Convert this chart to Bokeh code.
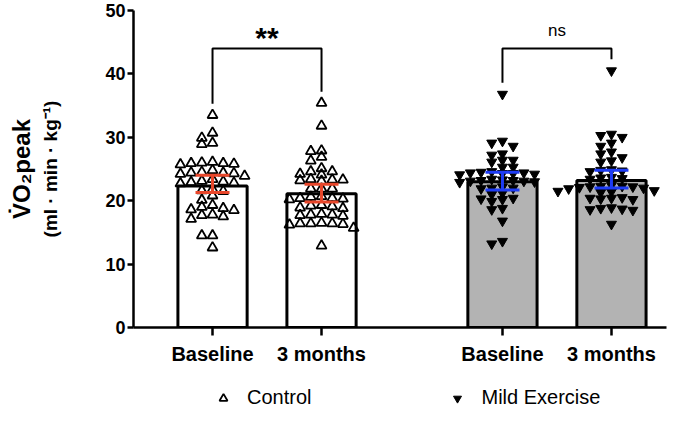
from bokeh.plotting import figure
from bokeh.layouts import column
from bokeh.models import (ColumnDataSource, FixedTicker, Range1d, Legend, LegendItem,
                          Label, Whisker, TeeHead, LinearAxis)
from bokeh.embed import file_html
from bokeh.resources import INLINE

# ---------------- data ----------------
bar_x = [1.0, 2.0, 3.66, 4.66]
tick_labels = ["Baseline", "3 months", "Baseline", "3 months"]
group_names = ["Control", "Mild Exercise"]
bar_means = [22.3, 21.1, 23.0, 23.2]
ci_lower = [21.3, 19.8, 21.7, 22.0]
ci_upper = [24.0, 22.6, 24.5, 24.8]
y_ticks = [0, 10, 20, 30, 40, 50]
sig_labels = ["**", "ns"]
y_title = "V\u0307O\u2082peak"
y_units = "(ml \u00b7 min \u00b7 kg\u207b\u00b9)"

control_baseline = [33.5, 30.7, 29.9, 29.1, 28.9, 26.1, 26.0, 25.9, 25.9, 25.8, 25.7,
                    24.8, 24.5, 24.4, 24.4, 24.3, 24.2, 23.9, 23.4, 23.1, 23.0, 22.9,
                    22.8, 22.7, 21.8, 21.6, 21.5, 20.8, 20.1, 19.3, 19.0, 18.8, 18.6,
                    18.5, 17.8, 17.7, 17.5, 17.1, 14.5, 14.5, 12.6]
control_3months = [35.4, 31.8, 27.9, 27.8, 26.9, 26.3, 25.1, 24.6, 24.6, 24.2, 24.1,
                   23.4, 23.3, 23.3, 23.2, 23.1, 21.9, 21.9, 21.9, 20.7, 20.6, 20.4,
                   20.4, 20.3, 20.2, 19.3, 19.2, 19.1, 18.9, 18.8, 17.9, 17.8, 17.8,
                   17.7, 17.6, 16.5, 16.4, 16.4, 16.4, 16.3, 16.2, 15.7, 12.9]
mild_baseline = [36.8, 29.4, 29.1, 28.6, 27.4, 27.2, 26.4, 26.4, 26.1, 25.3, 25.3,
                 24.6, 24.5, 24.4, 24.4, 24.3, 24.3, 24.2, 24.1, 23.4, 23.3, 23.2,
                 23.2, 23.1, 23.1, 23.0, 22.9, 22.2, 22.0, 22.0, 21.9, 21.2, 21.0,
                 20.4, 20.3, 20.2, 19.9, 18.8, 18.6, 16.8, 13.6, 13.2]
mild_3months = [40.5, 30.5, 30.3, 30.0, 29.1, 28.6, 27.7, 27.4, 26.8, 26.3, 26.1,
                24.9, 24.8, 24.7, 24.6, 23.7, 23.6, 23.5, 23.4, 22.4, 22.3, 22.3,
                22.2, 22.2, 22.1, 22.0, 21.9, 21.6, 21.5, 21.4, 21.3, 20.5, 20.4,
                20.4, 20.3, 20.2, 18.9, 18.8, 18.7, 18.6, 18.5, 16.3]

# ---------------- style / layout ----------------
FONT = "Liberation Sans"
RED = "#E8472B"
BLUE = "#1E3CF5"
GREY = "#B3B3B3"

W = 668
H_MAIN, H_LEG = 370, 40
FRAME_LEFT, FRAME_RIGHT_PAD, FRAME_TOP, FRAME_BOTTOM = 133, 2, 10, 327
X_START = 0.275
X_END = X_START + (W - FRAME_LEFT - FRAME_RIGHT_PAD) / 109.0
Y_START, Y_END = 0, 50
px_per_x = (W - FRAME_LEFT - FRAME_RIGHT_PAD) / (X_END - X_START)
px_per_y = (FRAME_BOTTOM - FRAME_TOP) / (Y_END - Y_START)


def swarm(vals, center, col_px=10.7, min_dy_px=6.0):
    """Prism-like column swarm: each point takes the nearest free column."""
    col_w = col_px / px_per_x
    min_dy = min_dy_px / px_per_y
    cands = [0]
    for j in range(1, 30):
        cands += [-j, j]
    placed = []
    out = [0.0] * len(vals)
    order = sorted(range(len(vals)), key=lambda i: -vals[i])
    for i in order:
        v = vals[i]
        for c in cands:
            if all(not (pc == c and abs(pv - v) < min_dy) for pc, pv in placed):
                break
        placed.append((c, v))
        out[i] = center + c * col_w
    return out


p = figure(width=W, height=H_MAIN, output_backend="svg", toolbar_location=None,
           x_range=Range1d(X_START, X_END), y_range=Range1d(Y_START, Y_END),
           min_border_left=FRAME_LEFT, min_border_right=FRAME_RIGHT_PAD,
           min_border_top=FRAME_TOP, min_border_bottom=H_MAIN - FRAME_BOTTOM)
p.grid.visible = False
p.outline_line_color = None
p.background_fill_color = "white"
p.border_fill_color = "white"

# bars
fills = ["white", "white", GREY, GREY]
bar_src = ColumnDataSource(dict(x=bar_x, top=bar_means, fill=fills))
p.vbar(x="x", top="top", bottom=0, width=0.635, source=bar_src,
       fill_color="fill", line_color="black", line_width=3)

# points
ctrl_vals = control_baseline + control_3months
ctrl_xs = swarm(control_baseline, bar_x[0]) + swarm(control_3months, bar_x[1])
mild_vals = mild_baseline + mild_3months
mild_xs = swarm(mild_baseline, bar_x[2]) + swarm(mild_3months, bar_x[3])

CTRL_STYLE = dict(marker="triangle", fill_color=None, line_color="black", line_width=1.8)
MILD_STYLE = dict(marker="inverted_triangle", fill_color="black", line_color="black", line_width=1)

p.scatter(x=ctrl_xs, y=ctrl_vals, size=10, **CTRL_STYLE)
p.scatter(x=mild_xs, y=mild_vals, size=10, **MILD_STYLE)

# error bars (95% CI), drawn above the points
for idx, col in ((slice(0, 2), RED), (slice(2, 4), BLUE)):
    src = ColumnDataSource(dict(x=bar_x[idx], lo=ci_lower[idx], hi=ci_upper[idx]))
    p.add_layout(Whisker(source=src, base="x", lower="lo", upper="hi", level="overlay",
                         line_color=col, line_width=3,
                         upper_head=TeeHead(size=34, line_color=col, line_width=3),
                         lower_head=TeeHead(size=34, line_color=col, line_width=3)))

# significance brackets
br_y = 44.0
gap = 1.8
pairs = [((0, control_baseline), (1, control_3months)),
         ((2, mild_baseline), (3, mild_3months))]
for (pair, lab) in zip(pairs, sig_labels):
    (i, vi), (j, vj) = pair
    p.line(x=[bar_x[i], bar_x[i], bar_x[j], bar_x[j]],
           y=[max(vi) + gap, br_y, br_y, max(vj) + gap],
           line_color="black", line_width=2)
    bold = lab == "**"
    p.add_layout(Label(x=(bar_x[i] + bar_x[j]) / 2, y=br_y + 4.3, text=lab,
                       text_align="center", text_baseline="top",
                       text_font=FONT, text_font_size="30px" if bold else "17px",
                       text_font_style="bold" if bold else "normal",
                       text_color="black"))

# axes
p.yaxis.ticker = FixedTicker(ticks=y_ticks)
p.yaxis.major_label_text_font = FONT
p.yaxis.major_label_text_font_style = "bold"
p.yaxis.major_label_text_font_size = "18px"
p.yaxis.major_label_text_color = "black"
p.yaxis.major_label_standoff = 2
p.yaxis.major_tick_out = 6
p.yaxis.major_tick_in = 0
p.yaxis.minor_tick_line_color = None
p.yaxis.axis_label = y_units
p.yaxis.axis_label_text_font = FONT
p.yaxis.axis_label_text_font_style = "bold"
p.yaxis.axis_label_text_font_size = "19px"
p.yaxis.axis_label_text_color = "black"
p.yaxis.axis_label_standoff = 41

p.xaxis.ticker = FixedTicker(ticks=bar_x)
p.xaxis.major_label_overrides = {x: lab for x, lab in zip(bar_x, tick_labels)}
p.xaxis.major_label_text_font = FONT
p.xaxis.major_label_text_font_style = "bold"
p.xaxis.major_label_text_font_size = "20px"
p.xaxis.major_label_text_color = "black"
p.xaxis.major_label_standoff = 7
p.xaxis.major_tick_out = 8
p.xaxis.major_tick_in = 0
p.xaxis.minor_tick_line_color = None

for ax in (p.xaxis, p.yaxis):
    ax.axis_line_width = 2.5
    ax.axis_line_color = "black"
    ax.major_tick_line_width = 2.5
    ax.major_tick_line_color = "black"

# second (title-only) left axis carrying the first title line
title_axis = LinearAxis(ticker=FixedTicker(ticks=[]), axis_label=y_title,
                        axis_line_color=None, major_tick_line_color=None,
                        minor_tick_line_color=None, major_label_text_font_size="0px",
                        axis_label_standoff=3, axis_label_text_font=FONT,
                        axis_label_text_font_style="bold",
                        axis_label_text_font_size="24px", axis_label_text_color="black")
p.add_layout(title_axis, "left")

# ---------------- legend strip ----------------
q = figure(width=W, height=H_LEG, output_backend="svg", toolbar_location=None,
           x_range=Range1d(0, W), y_range=Range1d(0, H_LEG),
           x_axis_location=None, y_axis_location=None,
           min_border_left=0, min_border_right=0, min_border_top=0, min_border_bottom=0)
q.grid.visible = False
q.outline_line_color = None
q.background_fill_color = "white"
q.border_fill_color = "white"

# key glyphs (kept outside the visible range; only drawn inside the legend)
lg_ctrl = q.scatter(x=[-50], y=[-50], size=10, **CTRL_STYLE)
lg_mild = q.scatter(x=[-50], y=[-50], size=10, **MILD_STYLE)

legend = Legend(items=[LegendItem(label=group_names[0], renderers=[lg_ctrl]),
                       LegendItem(label=group_names[1], renderers=[lg_mild])],
                orientation="horizontal", location=(80, 1),
                label_text_font=FONT, label_text_font_size="20px",
                label_text_color="black", label_standoff=14, spacing=136,
                padding=0, margin=0, border_line_color=None,
                background_fill_alpha=0, glyph_width=20, glyph_height=20,
                label_height=20)
q.add_layout(legend)

layout = column(p, q, spacing=0)
open("out.html", "w").write(file_html(layout, INLINE))
